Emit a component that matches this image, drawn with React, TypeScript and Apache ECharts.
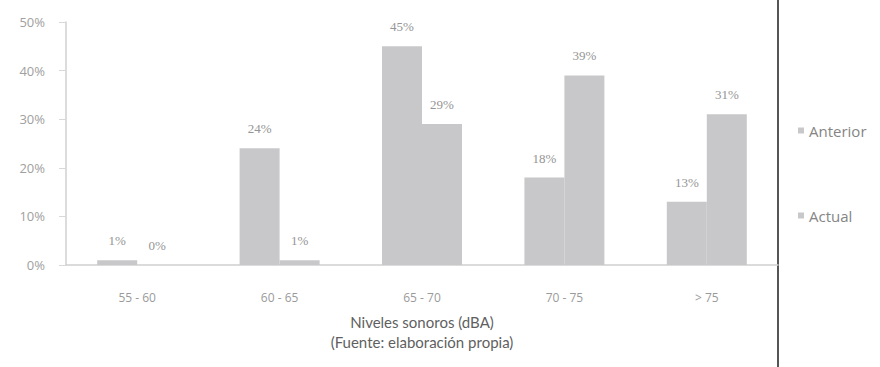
import React, { useEffect, useRef } from "react";
import * as echarts from "echarts";

const categories = ["55 - 60", "60 - 65", "65 - 70", "70 - 75", "> 75"];
const anterior = [1, 24, 45, 18, 13];
const actual = [0, 1, 29, 39, 31];
const seriesNames = ["Anterior", "Actual"];
const xAxisTitle = "Niveles sonoros (dBA)\n(Fuente: elaboración propia)";

export default function App() {
  const ref = useRef<HTMLDivElement>(null);
  useEffect(() => {
    if (!ref.current) return;
    const chart = echarts.init(ref.current, undefined, { renderer: "svg" });
    const barColor = "#c8c8ca";
    const labelStyle = {
      show: true,
      position: "top" as const,
      distance: 13,
      formatter: "{c}%",
      color: "#959595",
      fontSize: 13,
      fontFamily: "Liberation Serif",
    };
    const legendText = { color: "#858585", fontSize: 15, fontFamily: "Open Sans" };
    chart.setOption({
      animation: false,
      backgroundColor: "#ffffff",
      grid: { left: 66, right: 102, top: 22, bottom: 102, containLabel: false },
      legend: [
        {
          data: [seriesNames[0]],
          left: 793,
          top: 118,
          itemWidth: 6,
          itemHeight: 6,
          icon: "rect",
          itemGap: 6,
          textStyle: legendText,
        },
        {
          data: [seriesNames[1]],
          left: 793,
          top: 203,
          itemWidth: 6,
          itemHeight: 6,
          icon: "rect",
          itemGap: 6,
          textStyle: legendText,
        },
      ],
      xAxis: {
        type: "category",
        data: categories,
        axisLine: { lineStyle: { color: "#cfcfcf", width: 1.5 } },
        axisTick: { show: false },
        axisLabel: { color: "#9a9a9a", fontSize: 12, margin: 26, fontFamily: "Open Sans" },
        name: xAxisTitle,
        nameLocation: "middle",
        nameGap: 47,
        nameTextStyle: { color: "#5f5f5f", fontSize: 15, lineHeight: 20, fontFamily: "Lato" },
      },
      yAxis: {
        type: "value",
        min: 0,
        max: 50,
        interval: 10,
        splitLine: { show: false },
        axisLine: { show: true, lineStyle: { color: "#d0d0d0", width: 1.5 } },
        axisTick: { show: true, length: 7, lineStyle: { color: "#d8d8d8" } },
        axisLabel: { color: "#a0a0a0", fontSize: 13, margin: 21, formatter: "{value}%", fontFamily: "Open Sans" },
      },
      series: [
        {
          name: seriesNames[0],
          type: "bar",
          data: anterior,
          barWidth: 40,
          barGap: "0%",
          itemStyle: { color: barColor },
          label: labelStyle,
        },
        {
          name: seriesNames[1],
          type: "bar",
          data: actual,
          barWidth: 40,
          barGap: "0%",
          itemStyle: { color: barColor },
          label: labelStyle,
        },
      ],
      graphic: [
        {
          type: "line",
          shape: { x1: 778, y1: 0, x2: 778, y2: 367 },
          style: { stroke: "#555555", lineWidth: 2 },
        },
      ],
    });
    return () => chart.dispose();
  }, []);
  return (
    <div
      ref={ref}
      style={{ position: "absolute", left: 0, top: 0, width: 880, height: 367 }}
    />
  );
}
